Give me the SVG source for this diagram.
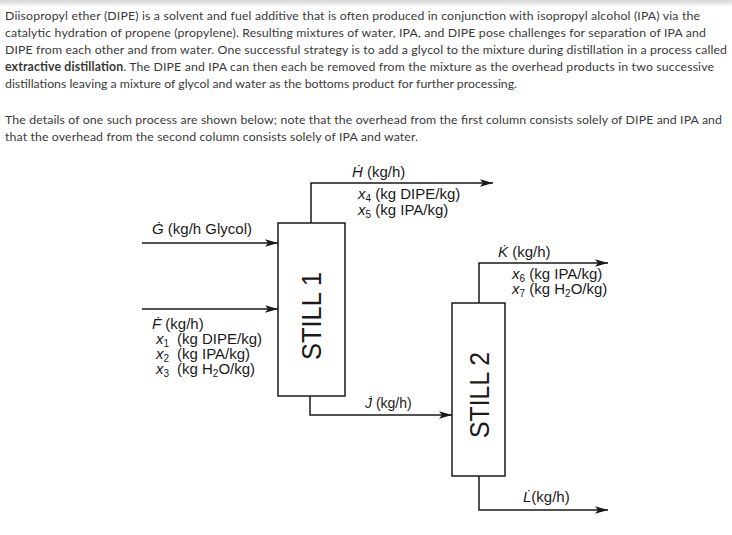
<svg xmlns="http://www.w3.org/2000/svg" width="732" height="535" viewBox="0 0 732 535">
<defs>
<linearGradient id="shade" x1="0" y1="0" x2="0" y2="1">
<stop offset="0" stop-color="#d6d6d6"/>
<stop offset="1" stop-color="#ffffff"/>
</linearGradient>
<marker id="arr" markerWidth="14" markerHeight="10" refX="13" refY="5" orient="auto" markerUnits="userSpaceOnUse">
<path d="M0,1.2 L13,5 L0,8.8 L3,5 Z" fill="#1a1a1a"/>
</marker>
</defs>
<style>
.p{font-family:Lato,"Open Sans",sans-serif;font-size:12.3px;fill:#3a3a3a}
.b{font-weight:bold}
.l{font-family:"Liberation Sans",Arial,sans-serif;font-size:15px;fill:#1a1a1a}
.i{font-style:italic}
.s{font-size:10px}
.still{font-family:"Liberation Sans",Arial,sans-serif;font-size:27px;fill:#1a1a1a}
.box{fill:#fff;stroke:#1a1a1a;stroke-width:1.5}
.c{fill:none;stroke:#1a1a1a;stroke-width:1.5}
</style>
<rect width="732" height="535" fill="#fff"/>
<rect width="732" height="7" fill="url(#shade)"/>
<g id="paragraph">
<text class="p" x="5" y="20" textLength="695" lengthAdjust="spacing">Diisopropyl ether (DIPE) is a solvent and fuel additive that is often produced in conjunction with isopropyl alcohol (IPA) via the</text>
<text class="p" x="5" y="37" textLength="701" lengthAdjust="spacing">catalytic hydration of propene (propylene). Resulting mixtures of water, IPA, and DIPE pose challenges for separation of IPA and</text>
<text class="p" x="5" y="54" textLength="722" lengthAdjust="spacing">DIPE from each other and from water. One successful strategy is to add a glycol to the mixture during distillation in a process called</text>
<text class="p" x="5" y="71" textLength="709" lengthAdjust="spacing"><tspan class="b">extractive distillation</tspan>. The DIPE and IPA can then each be removed from the mixture as the overhead products in two successive</text>
<text class="p" x="5" y="88" textLength="512" lengthAdjust="spacing">distillations leaving a mixture of glycol and water as the bottoms product for further processing.</text>
<text class="p" x="5" y="124" textLength="717" lengthAdjust="spacing">The details of one such process are shown below; note that the overhead from the first column consists solely of DIPE and IPA and</text>
<text class="p" x="5" y="141" textLength="413" lengthAdjust="spacing">that the overhead from the second column consists solely of IPA and water.</text>
</g>
<g id="connectors">
<path class="c" d="M142 243 H278" marker-end="url(#arr)"/>
<path class="c" d="M142 309 H278" marker-end="url(#arr)"/>
<path class="c" d="M311 223 V183 H493" marker-end="url(#arr)"/>
<path class="c" d="M310 396 V415 H452" marker-end="url(#arr)"/>
<path class="c" d="M479 303 V263 H608" marker-end="url(#arr)"/>
<path class="c" d="M479 476 V510 H608" marker-end="url(#arr)"/>
</g>
<g id="still1">
<rect class="box" x="278" y="223" width="67" height="173"/>
<text class="still" transform="translate(321,316) rotate(-90)" text-anchor="middle" textLength="88" lengthAdjust="spacingAndGlyphs">STILL 1</text>
</g>
<g id="still2">
<rect class="box" x="452" y="303" width="53" height="173"/>
<text class="still" transform="translate(489,395) rotate(-90)" text-anchor="middle" textLength="86" lengthAdjust="spacingAndGlyphs">STILL 2</text>
</g>
<g id="label-G">
<text class="l" x="152" y="234"><tspan class="i">Ġ</tspan> (kg/h Glycol)</text>
</g>
<g id="label-F">
<text class="l" x="152" y="329"><tspan class="i">Ḟ</tspan> (kg/h)</text>
<text class="l" x="156" y="344"><tspan class="i">x</tspan><tspan class="s" dy="3">1</tspan><tspan dy="-3" x="177">(kg DIPE/kg)</tspan></text>
<text class="l" x="156" y="359"><tspan class="i">x</tspan><tspan class="s" dy="3">2</tspan><tspan dy="-3" x="177">(kg IPA/kg)</tspan></text>
<text class="l" x="156" y="374"><tspan class="i">x</tspan><tspan class="s" dy="3">3</tspan><tspan dy="-3" x="177">(kg H</tspan><tspan class="s" dy="3">2</tspan><tspan dy="-3">O/kg)</tspan></text>
</g>
<g id="label-H">
<text class="l" x="352" y="177"><tspan class="i">Ḣ</tspan> (kg/h)</text>
<text class="l" x="358" y="199"><tspan class="i">x</tspan><tspan class="s" dy="3">4</tspan><tspan dy="-3"> (kg DIPE/kg)</tspan></text>
<text class="l" x="358" y="215"><tspan class="i">x</tspan><tspan class="s" dy="3">5</tspan><tspan dy="-3"> (kg IPA/kg)</tspan></text>
</g>
<g id="label-K">
<text class="l" x="498" y="257"><tspan class="i">K̇</tspan> (kg/h)</text>
<text class="l" x="512" y="279"><tspan class="i">x</tspan><tspan class="s" dy="3">6</tspan><tspan dy="-3"> (kg IPA/kg)</tspan></text>
<text class="l" x="512" y="294"><tspan class="i">x</tspan><tspan class="s" dy="3">7</tspan><tspan dy="-3"> (kg H</tspan><tspan class="s" dy="3">2</tspan><tspan dy="-3">O/kg)</tspan></text>
</g>
<g id="label-J">
<text class="l" x="365" y="408" style="font-size:14px"><tspan class="i">J̇</tspan> (kg/h)</text>
</g>
<g id="label-L">
<text class="l" x="523" y="502"><tspan class="i">L̇</tspan>(kg/h)</text>
</g>
</svg>
